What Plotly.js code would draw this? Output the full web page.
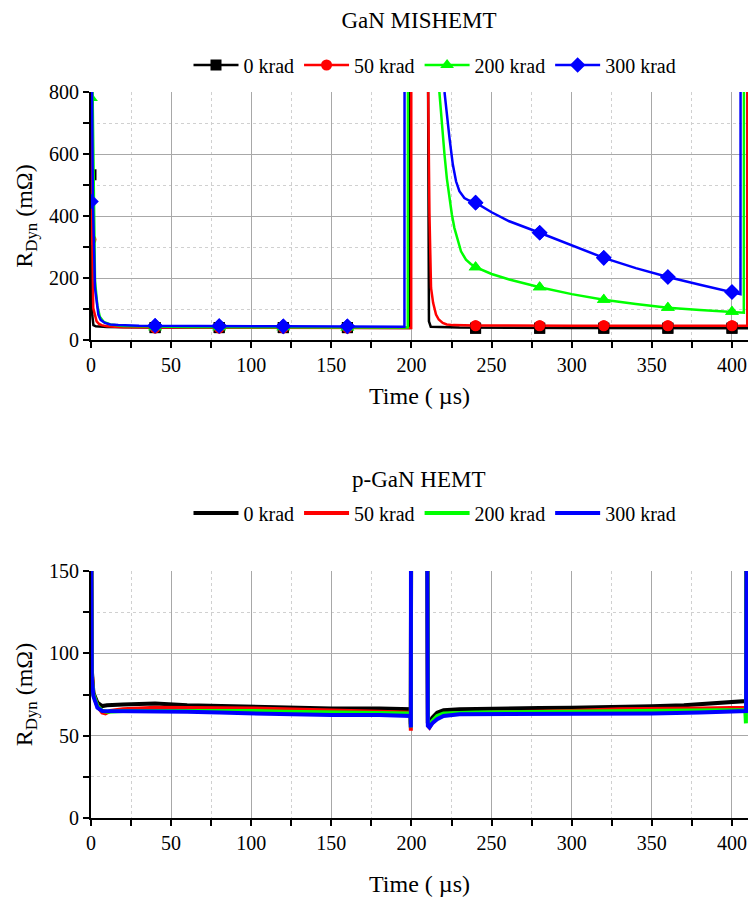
<!DOCTYPE html>
<html><head><meta charset="utf-8">
<script src="https://cdn.plot.ly/plotly-3.0.1.min.js"></script>
<style>html,body{margin:0;padding:0;background:#fff}#chart{width:750px;height:902px}</style>
</head><body><div id="chart"></div>
<script>
// ---- series meta ----
const seriesNames = ['0 krad', '50 krad', '200 krad', '300 krad'];
const seriesColors = ['#000000', '#ff0000', '#00ff00', '#0000ff'];
const seriesSymbols = ['square', 'circle', 'triangle-up', 'diamond'];

// ---- GaN MISHEMT (top) : line curves, time in µs, R in mΩ (off-scale spikes read as > 800) ----
const misT0 = [0, 0.3, 0.8, 1.5, 3, 10, 40, 100, 160, 198.8, 198.9, null, 210.1, 210.4, 210.9, 212, 230, 300, 400, 409.7, 409.8];
const misR0 = [1200, 400, 80, 48, 44, 42, 40, 40, 40, 39, 1200, null, 1200, 300, 60, 43, 40, 39, 38, 38, 1200];
const misT1 = [0, 0.5, 1.4, 2.5, 3.5, 5, 6.6, 10, 20, 60, 120, 199.8, 199.9, null, 209.6, 210.5, 211.2, 212.2, 213.5, 215.3, 217, 219.5, 222, 226, 240, 300, 400, 409.6, 409.7];
const misR1 = [1200, 450, 103, 75, 60, 52, 48, 44, 41, 40, 39, 39, 1200, null, 1200, 700, 409, 168, 120, 82, 66, 55, 50, 48, 47, 46, 46, 46, 1200];
const misT2 = [0, 0.8, 1.4, 2.5, 4, 5.5, 8, 12, 20, 60, 120, 197.7, 197.8, null, 217.4, 218.9, 220.6, 222.1, 223.7, 225.2, 226.8, 228.8, 230.9, 234, 237, 240, 250, 261, 280, 300, 320, 340, 360, 380, 400, 407.4, 407.5];
const misR2 = [1200, 850, 781, 190, 110, 75, 58, 50, 45, 42, 41, 40, 1200, null, 800, 690, 598, 520, 458, 405, 361, 320, 286, 259, 245, 235, 213, 195, 170, 148, 130, 116, 104, 97, 91, 88, 1200];
const misT3 = [0, 0.6, 1.2, 2.5, 4.6, 6, 8.7, 12, 17, 30, 60, 120, 195.6, 195.7, null, 220.6, 222.2, 223.7, 225.8, 227.8, 229.9, 231.5, 233, 236, 240, 250, 261, 280, 300, 320, 340, 360, 380, 400, 405.3, 405.4];
const misR3 = [1200, 800, 447, 168, 82, 65, 55, 50, 48, 46, 45, 44, 43, 1200, null, 800, 720, 652, 566, 512, 480, 467, 458, 450, 443, 412, 383, 346, 305, 265, 232, 203, 178, 155, 148, 1200];

// ---- GaN MISHEMT markers ----
const mkT0 = [0, 40, 80, 120, 160, 240, 280, 320, 360, 400];
const mkR0 = [533, 40, 40, 40, 40, 38, 38, 38, 38, 38];
const mkT1 = [0, 40, 80, 120, 160, 240, 280, 320, 360, 400];
const mkR1 = [324, 39, 39, 39, 39, 46, 46, 46, 46, 46];
const mkT2 = [0, 40, 80, 120, 160, 240, 280, 320, 360, 400];
const mkR2 = [781, 41, 41, 41, 40, 235, 170, 130, 104, 91];
const mkT3 = [0, 40, 80, 120, 160, 240, 280, 320, 360, 400];
const mkR3 = [447, 46, 45, 44, 44, 443, 346, 265, 203, 155];

// ---- p-GaN HEMT (bottom) ----
const hemT0 = [0, 0.5, 1.5, 4, 7, 10, 20, 40, 60, 80, 100, 120, 150, 180, 199.4, 199.6, 199.8, null, 209.8, 210.2, 211, 213, 216, 220, 230, 250, 280, 300, 330, 350, 370, 390, 408.8, 409.2];
const hemR0 = [200, 90, 76, 70, 68, 68.5, 69, 69.5, 68.5, 68, 67.5, 67, 66.5, 66.5, 66, 57, 200, null, 200, 58, 57, 61, 64, 65.5, 66, 66.5, 66.8, 67, 67.3, 67.8, 68.5, 69.5, 71, 200];
const hemT1 = [0, 0.5, 1.5, 4, 7, 9, 12, 20, 40, 60, 80, 100, 120, 150, 180, 199.4, 199.6, 199.8, null, 209.8, 210.3, 211.2, 213, 216, 220, 230, 260, 300, 330, 350, 380, 408.8, 409.2];
const hemR1 = [200, 88, 75, 68, 64, 63.5, 65, 66, 67, 67, 67, 66.5, 66, 65, 64.5, 64, 53, 200, null, 200, 56, 55, 58, 61, 63, 63.5, 64, 65, 66, 66, 66.5, 67, 200];
const hemT2 = [0, 0.5, 1.5, 4, 7, 10, 20, 40, 60, 80, 100, 120, 150, 180, 199.4, 199.6, 199.8, null, 209.8, 210.3, 211.2, 213, 216, 220, 240, 300, 350, 380, 408.3, 408.7, 409.2];
const hemR2 = [200, 86, 75, 68, 65, 64.5, 65, 65, 65.5, 65, 65, 64.5, 64, 64, 63.5, 55, 200, null, 200, 57, 56, 59, 62, 63.5, 64, 64.5, 64.5, 65, 65.5, 57.5, 200];
const hemT3 = [0, 0.5, 1.5, 4, 7, 10, 20, 40, 60, 80, 100, 120, 150, 180, 199.4, 199.6, 199.7, null, 209.7, 210.2, 211.2, 213, 216, 220, 230, 260, 300, 350, 380, 408.8, 409.2];
const hemR3 = [200, 85, 74, 67, 65, 65, 65, 65, 64.5, 64, 63.5, 63, 62.5, 62.5, 62, 55, 200, null, 200, 56, 55, 57.5, 60, 62, 63, 63, 63.5, 63.5, 64, 65, 200];

const misT = [misT0, misT1, misT2, misT3], misR = [misR0, misR1, misR2, misR3];
const mkT = [mkT0, mkT1, mkT2, mkT3], mkR = [mkR0, mkR1, mkR2, mkR3];
const hemT = [hemT0, hemT1, hemT2, hemT3], hemR = [hemR0, hemR1, hemR2, hemR3];

const FONT = 'Liberation Serif, Times New Roman, serif';
const traces = [];
for (let i = 0; i < 4; i++) {
  // isolated marker points (separated by gaps) so legend shows line + symbol
  const mx = [], my = [];
  mkT[i].forEach((t, k) => { mx.push(t, null); my.push(mkR[i][k], null); });
  traces.push({
    x: mx, y: my, xaxis: 'x', yaxis: 'y', mode: 'lines+markers', connectgaps: false,
    name: seriesNames[i], legend: 'legend',
    line: {color: seriesColors[i], width: 2.5},
    marker: {symbol: seriesSymbols[i], size: i >= 2 ? 12 : 11, color: seriesColors[i]}
  });
  traces.push({
    x: misT[i], y: misR[i], xaxis: 'x', yaxis: 'y', mode: 'lines',
    line: {color: seriesColors[i], width: 2.5}, showlegend: false, hoverinfo: 'skip', connectgaps: false
  });
}
// redraw the marker layer of the later points on top of the lines
for (let i = 0; i < 4; i++) {
  traces.push({
    x: mkT[i].slice(1), y: mkR[i].slice(1), xaxis: 'x', yaxis: 'y', mode: 'markers',
    showlegend: false, hoverinfo: 'skip',
    marker: {symbol: seriesSymbols[i], size: i >= 2 ? 12 : 11, color: seriesColors[i]}
  });
}
for (let i = 0; i < 4; i++) {
  traces.push({
    x: hemT[i], y: hemR[i], xaxis: 'x2', yaxis: 'y2', mode: 'lines', connectgaps: false,
    name: seriesNames[i], legend: 'legend2',
    line: {color: seriesColors[i], width: 4}
  });
}

const H = 902, W = 750;
const xDom = [91 / W, 748 / W];
const axisCommon = {
  showline: true, linecolor: '#000', linewidth: 2, mirror: false,
  ticks: 'outside', ticklen: 6, tickwidth: 2, tickcolor: '#000',
  showgrid: true, gridcolor: '#a8a8a8', gridwidth: 1, zeroline: false,
  tickfont: {family: FONT, size: 20, color: '#000'}
};
function xax(anchor, standoff) {
  return Object.assign({}, axisCommon, {
    anchor: anchor, domain: xDom, range: [0, 410], tick0: 0, dtick: 50,
    minor: {dtick: 25, ticks: 'outside', ticklen: 6, tickwidth: 2, tickcolor: '#000', showgrid: true, gridcolor: '#d0d0d0', griddash: 'dot', gridwidth: 1},
    title: {text: 'Time ( µs)', font: {family: FONT, size: 24, color: '#000'}, standoff: standoff}
  });
}
function yax(anchor, dom, rng, dt) {
  return Object.assign({}, axisCommon, {
    anchor: anchor, domain: dom, range: rng, tick0: 0, dtick: dt,
    minor: {dtick: dt / 2, ticks: 'outside', ticklen: 6, tickwidth: 2, tickcolor: '#000', showgrid: true, gridcolor: '#d0d0d0', griddash: 'dot', gridwidth: 1},
    title: {text: 'R<sub>Dyn</sub> (mΩ)', font: {family: FONT, size: 24, color: '#000'}, standoff: 10}
  });
}
const legendCommon = {
  orientation: 'h', xanchor: 'center', x: 435 / W, yanchor: 'middle',
  font: {family: FONT, size: 20, color: '#000'}, itemwidth: 45, bgcolor: 'rgba(0,0,0,0)',
  itemclick: false, itemdoubleclick: false
};
const layout = {
  width: W, height: H, margin: {l: 0, r: 0, t: 0, b: 0},
  paper_bgcolor: '#fff', plot_bgcolor: '#fff',
  title: {text: 'GaN MISHEMT', font: {family: FONT, size: 23, color: '#000'}, x: 419 / W, xanchor: 'center', y: 1 - 20 / H, yanchor: 'middle', yref: 'container'},
  xaxis: xax('y', 12),
  yaxis: yax('x', [1 - 340 / H, 1 - 92 / H], [0, 800], 200),
  xaxis2: xax('y2', 22),
  yaxis2: yax('x2', [1 - 818 / H, 1 - 571 / H], [0, 150], 50),
  legend: Object.assign({}, legendCommon, {y: 1 - 65 / H}),
  legend2: Object.assign({}, legendCommon, {y: 1 - 513 / H}),
  annotations: [{
    text: 'p-GaN HEMT', xref: 'paper', yref: 'paper', x: 419 / W, y: 1 - 480 / H,
    xanchor: 'center', yanchor: 'middle', showarrow: false,
    font: {family: FONT, size: 23, color: '#000'}
  }],
  showlegend: true
};
Plotly.newPlot('chart', traces, layout, {staticPlot: true, displayModeBar: false});
</script>
</body></html>
